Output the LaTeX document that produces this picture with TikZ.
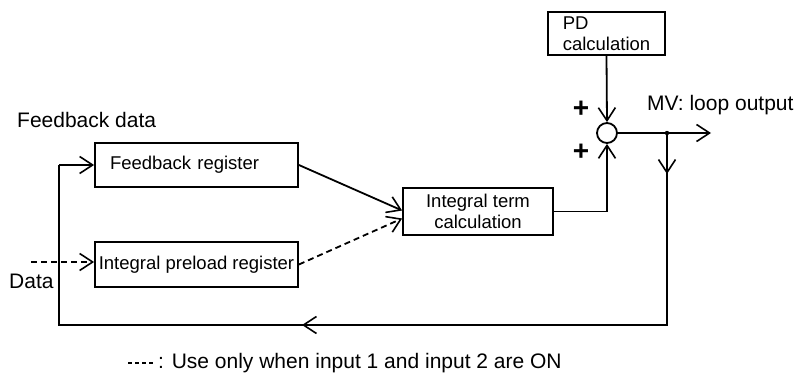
\documentclass[tikz,border=0pt]{standalone}
\usepackage{fontspec}
\setmainfont{Liberation Sans}
\usetikzlibrary{arrows.meta}

\tikzset{
  wire/.style={line width=1.8pt},
  arr/.style={wire, -{Straight Barb[length=13pt,width=17pt,line width=1.6pt]}},
  blk/.style={draw, line width=1.8pt, inner sep=0pt, font=\fontsize{18.5}{20.5}\selectfont},
  lbl/.style={inner sep=0pt, font=\fontsize{21}{24}\selectfont},
  plus/.style={inner sep=0pt, font=\fontsize{28}{30}\selectfont\bfseries},
}

\begin{document}
\begin{tikzpicture}[x=1pt,y=-1pt]
\useasboundingbox (0,0) rectangle (806,379);

% blocks
\node[blk, minimum width=117pt, minimum height=43pt, align=left] (pd) at (606.5,33.5) {PD\\calculation};
\node[blk, minimum width=203pt, minimum height=44pt, text width=173pt, align=left] (fbreg) at (196.5,165) {Feedback register};
\node[blk, minimum width=203pt, minimum height=45pt] (preload) at (196.5,264.5) {Integral preload register};
\node[blk, minimum width=150pt, minimum height=47pt, align=center] (integ) at (478,211.5) {Integral term\\calculation};
\node[draw, circle, line width=1.8pt, minimum size=20pt, inner sep=0pt] (sum) at (607,133) {};

% labels
\node[lbl, anchor=west] (fbdata) at (17,120) {Feedback data};
\node[lbl, anchor=west] (datalbl) at (9,281) {Data};
\node[lbl, anchor=west] (mvlbl) at (647,105) {MV: loop output};
\node[plus] (plusA) at (581,109) {+};
\node[plus] (plusB) at (581,152) {+};

% junctions and corners
\coordinate (branch) at (667,133);
\coordinate (mvend) at (711,133);
\coordinate (downtip) at (667,174);
\coordinate (cornerBR) at (667,325);
\coordinate (lefttip) at (302,325);
\coordinate (cornerBL) at (59,325);
\coordinate (cornerTL) at (59,165);
\coordinate (datastart) at (31,262);

% signal paths
\draw[arr] (pd.south) -- (sum.north);
\draw[arr] (integ.east) -| (sum.south);
\draw[arr] (sum.east) -- (mvend);
\fill (branch) circle (2.2pt);
\draw[wire] (branch) -- (cornerBR) -- (cornerBL) -- (cornerTL);
\draw[arr] (branch) -- (downtip);
\draw[arr] (cornerBR) -- (lefttip);
\draw[arr] (cornerTL) -- (fbreg.west);
\draw[arr] (fbreg.east) -- ([yshift=1pt]integ.west);
\draw[arr, dash pattern=on 6pt off 4pt] (preload.east) -- ([yshift=-7pt]integ.west);
\draw[arr, dash pattern=on 6pt off 4pt] (datastart) -- (preload.west |- datastart);

% legend
\coordinate (legA) at (128,363);
\coordinate (legB) at (155,363);
\draw[line width=1.4pt, dash pattern=on 4pt off 3pt] (legA) -- (legB);
\node[lbl, anchor=west] (legend) at (158,363) {: Use only when input 1 and input 2 are ON};
\end{tikzpicture}
\end{document}
